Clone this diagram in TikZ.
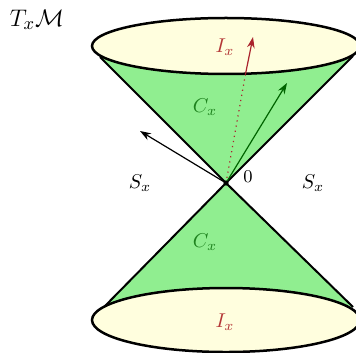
\documentclass[tikz,border=0pt]{standalone}
\usetikzlibrary{arrows.meta}
\definecolor{conegreen}{RGB}{144,238,144}
\definecolor{capyellow}{RGB}{255,254,222}
\definecolor{labgreen}{RGB}{30,130,30}
\definecolor{labred}{RGB}{180,55,55}
\definecolor{arrred}{RGB}{170,35,45}
\definecolor{arrgreen}{RGB}{0,100,0}
\tikzset{
  conefill/.style={fill=conegreen},
  coneline/.style={line width=1pt},
  capstyle/.style={fill=capyellow, draw=black, line width=1.25pt},
  lab/.style={inner sep=0pt},
  vec/.style={line width=0.6pt, -{Stealth[length=5.5pt,width=3.8pt]}}
}
\begin{document}
\begin{tikzpicture}[x=0.5pt,y=-0.5pt]
\useasboundingbox (0,0) rectangle (356,352);
\clip (0,0) rectangle (356,352);
\coordinate (A) at (226,183);
\coordinate (TL) at (100,57);
\coordinate (TR) at (353,56);
\coordinate (BL) at (104,307);
\coordinate (BR) at (353,307);
% cones
\fill[conefill] (A) -- (TL) -- (TR) -- cycle;
\fill[conefill] (A) -- (BL) -- (BR) -- cycle;
\draw[coneline] (TL) -- (A) -- (TR);
\draw[coneline] (BL) -- (A) -- (BR);
% caps
\draw[capstyle] (226,46) ellipse [x radius=134, y radius=28];
\draw[capstyle] (226,320) ellipse [x radius=134, y radius=32];
% vectors
\coordinate (R1) at (245.5,74);
\coordinate (R2) at (253,37);
\coordinate (G) at (287,83);
\coordinate (K) at (140,131);
\draw[arrred, line width=0.6pt, dotted] (A) -- (R1);
\draw[arrred, vec] (R1) -- (R2);
\draw[arrgreen, vec] (A) -- (G);
\draw[black, vec] (A) -- (K);
\fill (A) circle [radius=2.6];
% labels
\node[lab, font=\fontsize{13}{15}\selectfont] (T) at (37,20) {$T_x\mathcal{M}$};
\node[lab, text=labred] (I1) at (225,47) {$I_x$};
\node[lab, text=labgreen] (C1) at (205,107) {$C_x$};
\node[lab] (S1) at (140,183) {$S_x$};
\node[lab] (S2) at (313,183) {$S_x$};
\node[lab, font=\small] (Z) at (248,177) {$0$};
\node[lab, text=labgreen] (C2) at (205,242) {$C_x$};
\node[lab, text=labred] (I2) at (225,322) {$I_x$};
\end{tikzpicture}
\end{document}
